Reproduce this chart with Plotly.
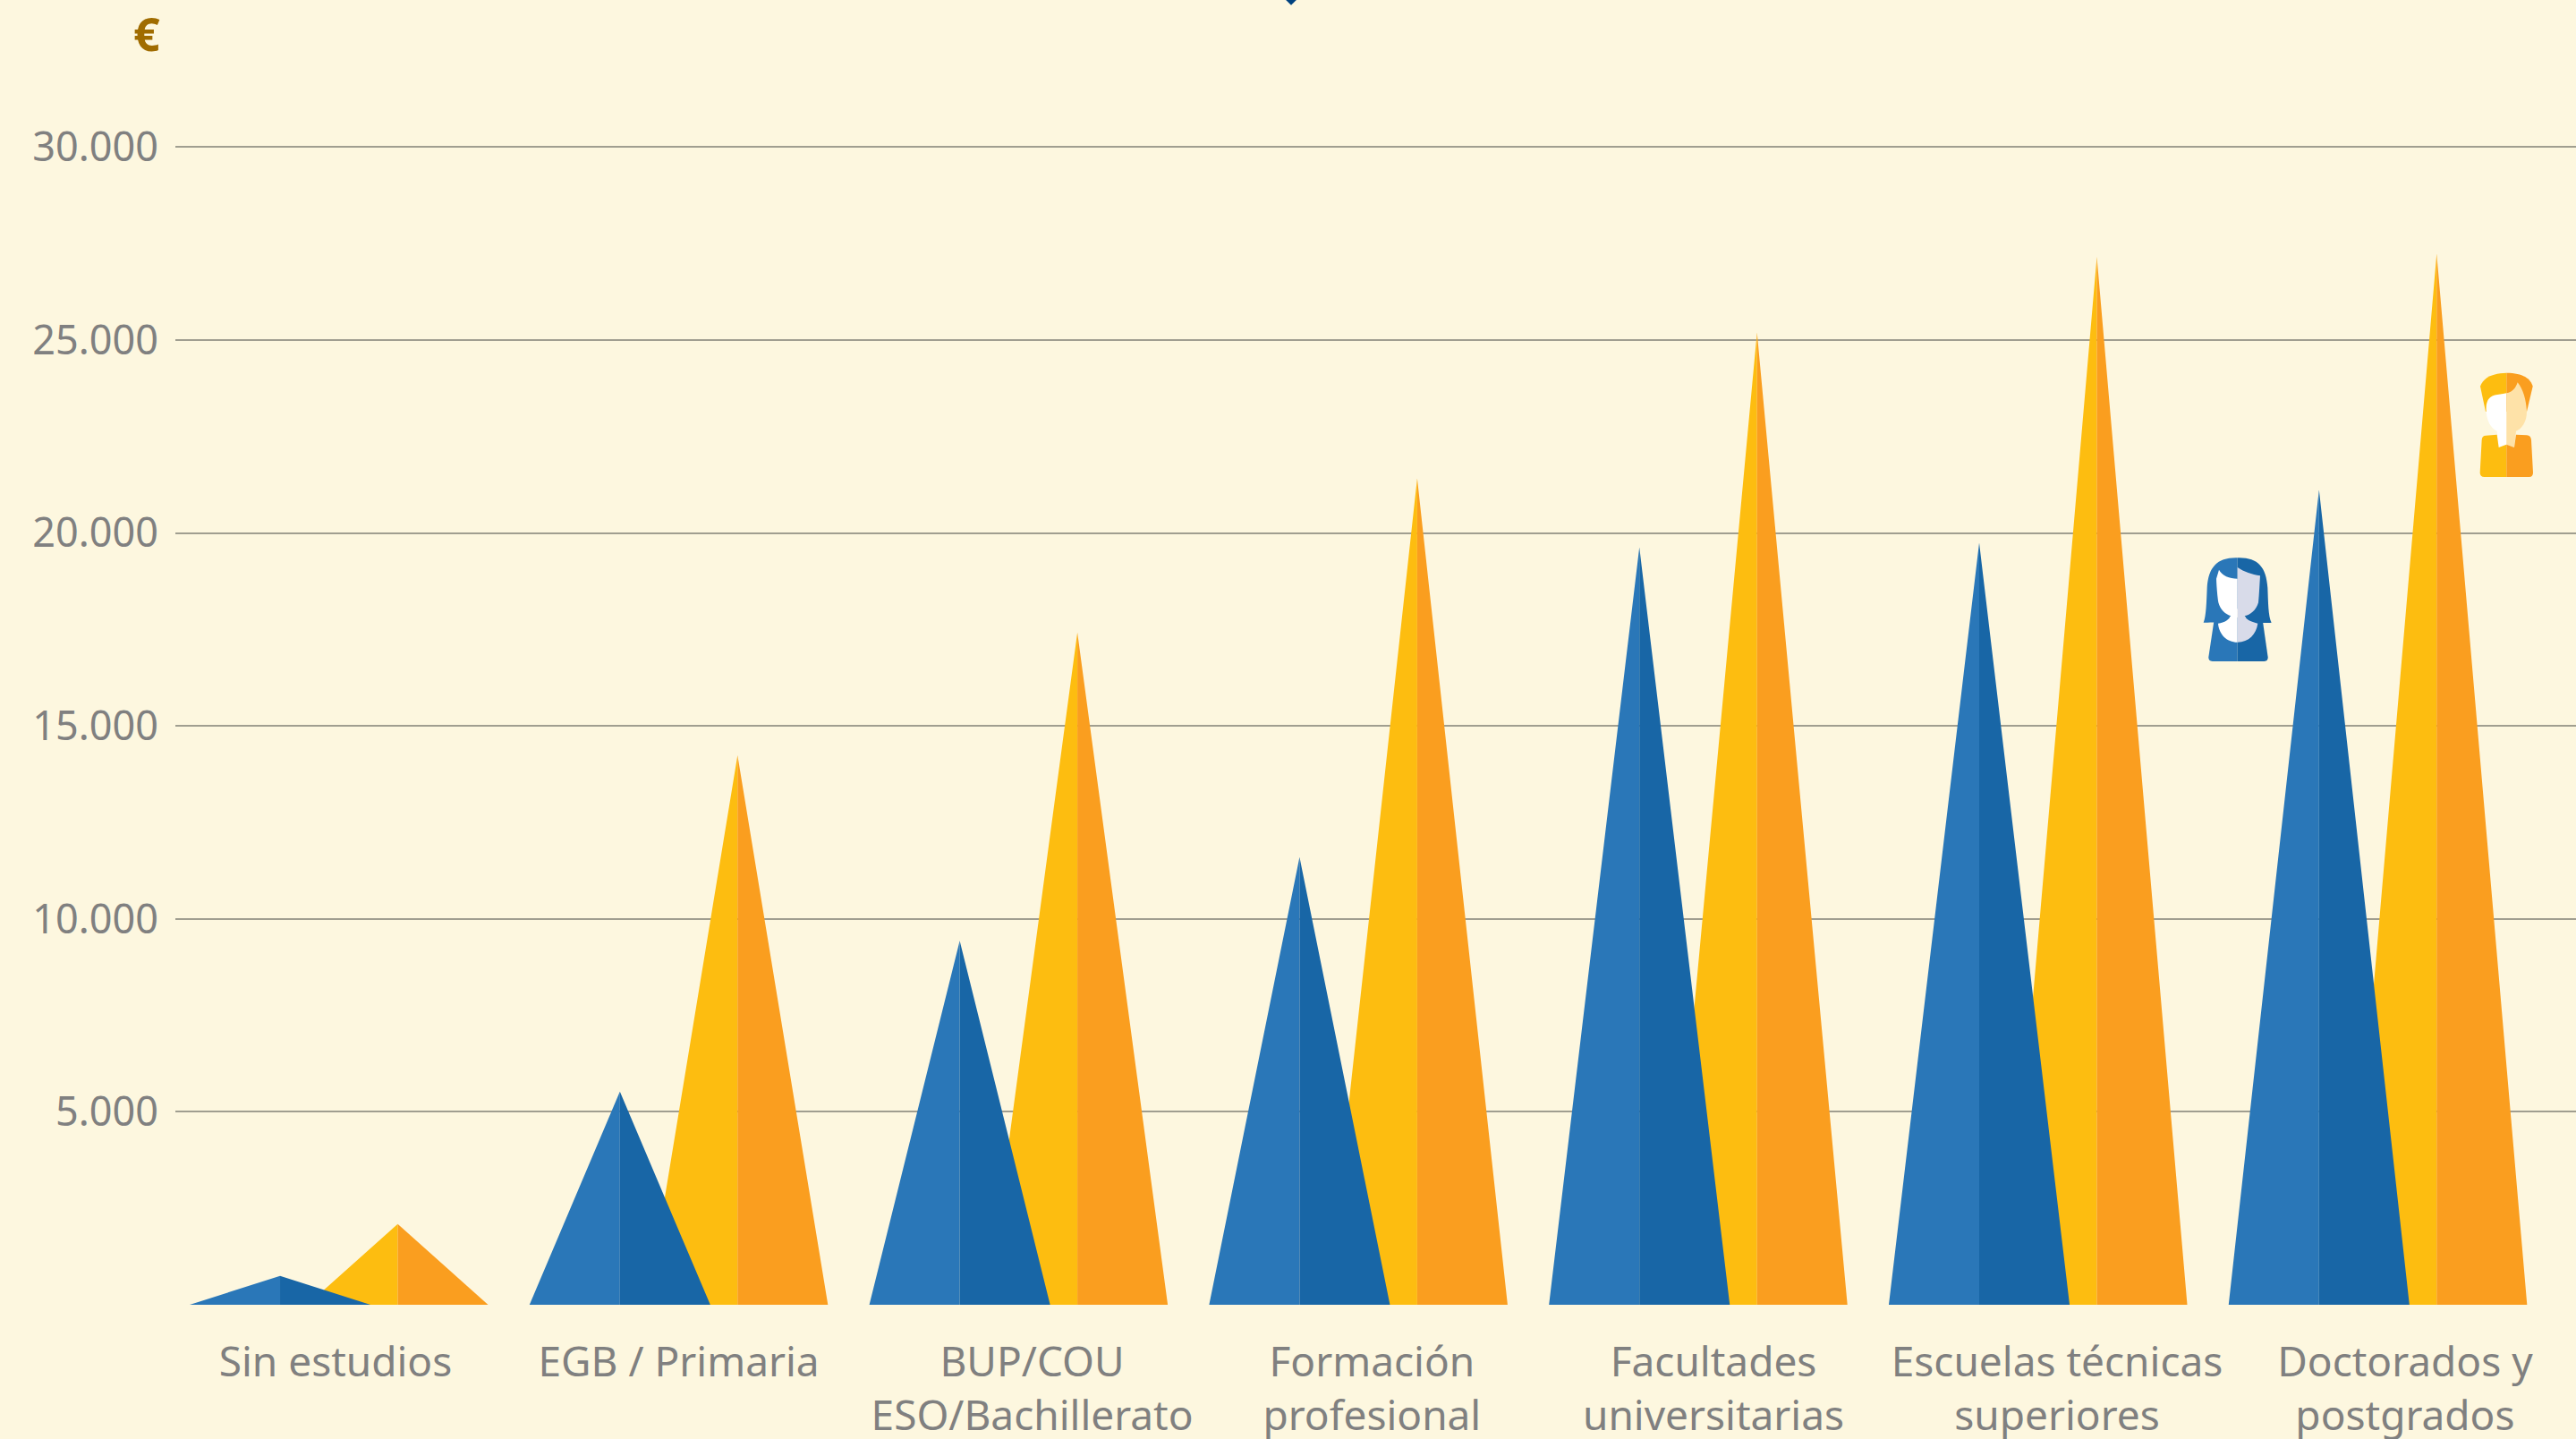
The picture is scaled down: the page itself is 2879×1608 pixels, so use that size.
import plotly.graph_objects as go

categories = ["Sin estudios", "EGB / Primaria", "BUP/COU<br>ESO/Bachillerato", "Formación<br>profesional",
              "Facultades<br>universitarias", "Escuelas técnicas<br>superiores", "Doctorados y<br>postgrados"]
mujeres = [750, 5525, 9435, 11600, 19635, 19750, 21120]
hombres = [2095, 14240, 17425, 21420, 25200, 27160, 27240]
y_ticks = [5000, 10000, 15000, 20000, 25000, 30000]
label_nudge = [-0.01, 0.0, 0.04, 0.04, 0.045, 0.056, 0.08]

W, H = 2879, 1608
L, B = 196, 150
PAIR_OFFSET = 0.1731
HALF_BASE = 0.266
Y_TOP = 33815
X0, X1 = -0.4812, 6.5831

BG = "#fdf7df"
BLUE_L, BLUE_D = "#2a77b8", "#1866a6"
YEL_L, YEL_D = "#fdbd10", "#fa9e1f"


def half_triangles(values, offset, side):
    xs, ys = [], []
    for i, v in enumerate(values):
        c = i + offset
        xs += [c + side * HALF_BASE, c, c, None]
        ys += [0, v, 0, None]
    return xs, ys


fig = go.Figure()
for values, off, cl, cd, name in [(hombres, PAIR_OFFSET, YEL_L, YEL_D, "Hombres"),
                                  (mujeres, -PAIR_OFFSET, BLUE_L, BLUE_D, "Mujeres")]:
    for side, col in [(-1, cl), (1, cd)]:
        xs, ys = half_triangles(values, off, side)
        fig.add_trace(go.Scatter(x=xs, y=ys, mode="lines", fill="toself", fillcolor=col,
                                 line=dict(width=0, color=col), name=name, showlegend=False,
                                 hoverinfo="skip"))

# small marker cut off by the top edge of the picture
fig.add_trace(go.Scatter(x=[(1443 - 378.75) / 379.8], y=[Y_TOP], mode="markers", cliponaxis=False,
                         marker=dict(symbol="diamond", size=9, color="#00427f"),
                         showlegend=False, hoverinfo="skip"))


def px(u, v, ox, oy):
    return (ox + u / 3 - L) / (W - L), 1 - (oy + v / 3) / (H - B)


def path(cmds, ox=2400, oy=380):
    out = []
    for c in cmds:
        pts = c[1:]
        seg = c[0]
        for i in range(0, len(pts), 2):
            a, b = px(pts[i], pts[i + 1], ox, oy)
            seg += f"{a:.5f},{b:.5f} "
        out.append(seg.strip())
    return " ".join(out) + " Z"


def icon_shape(cmds, color):
    return dict(type="path", xref="paper", yref="paper", path=path(cmds), fillcolor=color,
                line=dict(width=0), layer="above")


shapes = [
    # man
    icon_shape([("M", 1204, 110), ("C", 1150, 112, 1125, 130, 1116, 155), ("L", 1134, 240), ("L", 1204, 240)], YEL_L),
    icon_shape([("M", 1204, 110), ("C", 1260, 110, 1285, 130, 1292, 155), ("L", 1272, 240), ("L", 1204, 240)], YEL_D),
    icon_shape([("M", 1204, 178), ("C", 1170, 185, 1140, 178, 1136, 225), ("C", 1134, 265, 1150, 295, 1172, 305),
                ("L", 1178, 360), ("L", 1204, 350)], "#ffffff"),
    icon_shape([("M", 1204, 178), ("C", 1225, 175, 1235, 160, 1241, 142), ("C", 1260, 165, 1270, 200, 1272, 240),
                ("C", 1272, 275, 1255, 298, 1236, 305), ("L", 1230, 360), ("L", 1204, 350)], "#fee2a8"),
    icon_shape([("M", 1204, 459), ("L", 1130, 459), ("Q", 1115, 459, 1115, 445), ("L", 1121, 335),
                ("Q", 1122, 320, 1135, 320), ("L", 1172, 317), ("L", 1178, 360), ("L", 1204, 350)], YEL_L),
    icon_shape([("M", 1204, 350), ("L", 1230, 360), ("L", 1236, 317), ("L", 1272, 319), ("Q", 1286, 320, 1287, 335),
                ("L", 1293, 445), ("Q", 1293, 459, 1280, 459), ("L", 1204, 459)], YEL_D),
    # woman
    icon_shape([("M", 302, 1077), ("L", 218, 1077), ("Q", 204, 1077, 205, 1063), ("L", 225, 930), ("L", 302, 930)], BLUE_L),
    icon_shape([("M", 302, 1077), ("L", 392, 1077), ("Q", 405, 1077, 404, 1063), ("L", 385, 930), ("L", 302, 930)], BLUE_D),
    icon_shape([("M", 302, 730), ("C", 235, 728, 205, 760, 200, 830), ("C", 198, 880, 197, 925, 188, 947),
                ("C", 205, 947, 260, 950, 280, 925), ("L", 302, 900)], BLUE_L),
    icon_shape([("M", 302, 730), ("C", 370, 728, 398, 760, 403, 830), ("C", 405, 880, 405, 925, 416, 947),
                ("C", 395, 950, 345, 950, 325, 925), ("L", 302, 900)], BLUE_D),
    icon_shape([("M", 302, 800), ("C", 275, 800, 250, 790, 240, 770), ("L", 231, 800), ("C", 232, 830, 235, 860, 238, 880),
                ("C", 245, 905, 262, 920, 280, 925), ("C", 272, 938, 260, 948, 237, 950),
                ("C", 240, 985, 265, 1013, 302, 1013)], "#ffffff"),
    icon_shape([("M", 302, 762), ("C", 325, 778, 350, 785, 378, 790), ("C", 376, 820, 375, 850, 372, 880),
                ("C", 365, 905, 345, 922, 325, 925), ("C", 335, 940, 350, 945, 370, 950),
                ("C", 365, 985, 340, 1013, 302, 1013)], "#d8dbe9"),
]

fig.update_layout(
    width=W, height=H, autosize=False,
    margin=dict(l=L, r=0, t=0, b=B, pad=0),
    paper_bgcolor=BG, plot_bgcolor=BG,
    showlegend=False, separators=",.",
    font=dict(family="Noto Sans", size=45, color="#808080"),
    shapes=shapes,
    annotations=[dict(text="<b>€</b>", xref="paper", yref="paper", x=(181 - L) / (W - L), y=1 - 37 / (H - B),
                      xanchor="right", yanchor="middle", showarrow=False,
                      font=dict(family="Noto Sans", size=52, color="#a06c00"))],
)
fig.update_xaxes(range=[X0, X1], tickmode="array", automargin=False,
                 tickvals=[i + n for i, n in enumerate(label_nudge)], ticktext=categories,
                 ticks="", showgrid=False, zeroline=False, showline=False, ticklabelstandoff=33,
                 tickangle=0, tickfont=dict(family="Noto Sans", size=46, color="#808080"))
fig.update_yaxes(range=[0, Y_TOP], tickmode="array", tickvals=y_ticks, tickformat=",d", ticks="",
                 automargin=False, showgrid=True, gridcolor="#a09e90", gridwidth=2, zeroline=False,
                 showline=False, ticklabelstandoff=18,
                 tickfont=dict(family="Noto Sans", size=45, color="#808080"))

fig.write_html("out.html", config={"displayModeBar": False},
               post_script="document.documentElement.style.margin='0';document.body.style.margin='0';"
                           "document.body.style.background='" + BG + "';document.body.style.overflow='hidden';")
